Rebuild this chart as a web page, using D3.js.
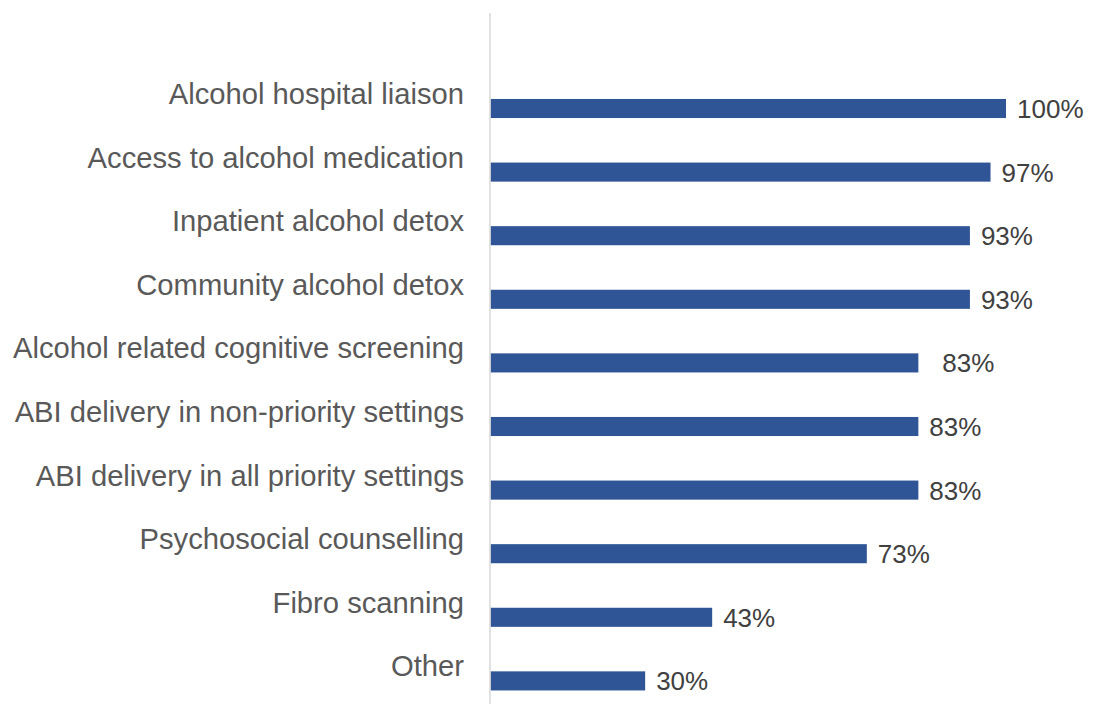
<!DOCTYPE html>
<html>
<head>
<meta charset="utf-8">
<script src="https://cdn.jsdelivr.net/npm/d3@7"></script>
<style>
  html, body { margin: 0; padding: 0; background: #fff; }
  svg { display: block; font-family: "Liberation Sans", Arial, sans-serif; }
</style>
</head>
<body>
<svg id="chart" width="1096" height="704"></svg>
<script>
const categories = [
  "Alcohol hospital liaison",
  "Access to alcohol medication",
  "Inpatient alcohol detox",
  "Community alcohol detox",
  "Alcohol related cognitive screening",
  "ABI delivery in non-priority settings",
  "ABI delivery in all priority settings",
  "Psychosocial counselling",
  "Fibro scanning",
  "Other"
];
const values = [100, 97, 93, 93, 83, 83, 83, 73, 43, 30];
const valueLabels = ["100%", "97%", "93%", "93%", "\u200283%", "83%", "83%", "73%", "43%", "30%"];

const svg = d3.select("#chart");
const x0 = 490.5, x100 = 1006;

const x = d3.scaleLinear().domain([0, 100]).range([x0, x100]);
const y = d3.scaleBand().domain(categories).range([76.7, 712.7])
  .paddingInner(0.7).paddingOuter(0.35);

// bars
svg.append("g").selectAll("rect")
  .data(categories)
  .join("rect")
  .attr("x", x(0))
  .attr("y", d => y(d))
  .attr("width", (d, i) => x(values[i]) - x(0))
  .attr("height", y.bandwidth())
  .attr("fill", "#2F5597");

// axis line
svg.append("line")
  .attr("x1", 490).attr("x2", 490)
  .attr("y1", 13).attr("y2", 704)
  .attr("stroke", "#D9D9D9").attr("stroke-width", 1.5);

// category labels
svg.append("g").selectAll("text")
  .data(categories)
  .join("text")
  .attr("x", 464)
  .attr("y", d => y(d) + y.bandwidth() / 2 - 4.5)
  .attr("text-anchor", "end")
  .attr("font-size", 29.2)
  .attr("fill", "#595959")
  .text(d => d);

// value labels
svg.append("g").selectAll("text")
  .data(categories)
  .join("text")
  .attr("x", (d, i) => x(values[i]) + 11)
  .attr("y", d => y(d) + y.bandwidth() / 2 + 9.5)
  .attr("font-size", 26)
  .attr("fill", "#404040")
  .style("white-space", "pre")
  .text((d, i) => valueLabels[i]);
</script>
</body>
</html>
